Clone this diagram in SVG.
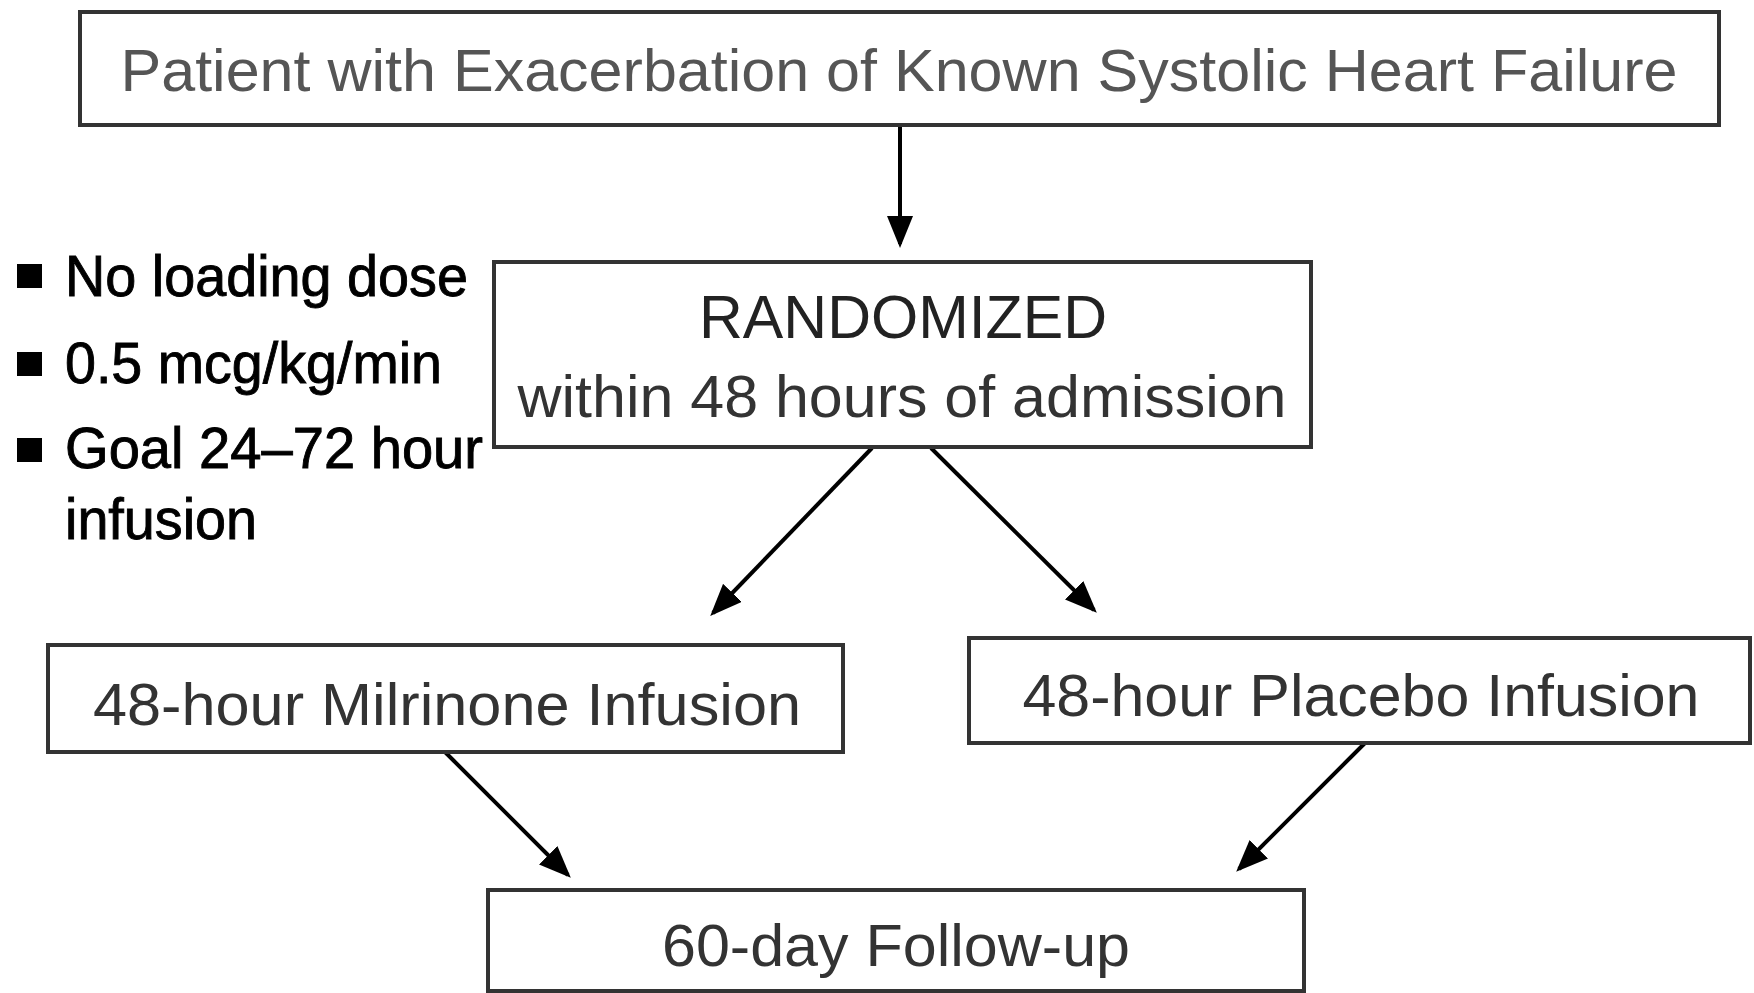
<svg xmlns="http://www.w3.org/2000/svg" width="1754" height="993" viewBox="0 0 1754 993">
<style>
.box{fill:#fff;stroke:#333;stroke-width:4}
.t{font-family:"Liberation Sans",Arial,sans-serif;text-anchor:middle}
.b{font-family:"Liberation Sans",Arial,sans-serif;fill:#000;stroke:#000;stroke-width:0.9;font-size:57px}
.conn{stroke:#000;stroke-width:4;fill:none;marker-end:url(#ah)}
</style>
<defs>
<marker id="ah" markerWidth="8" markerHeight="6.5" refX="7" refY="3.25" orient="auto" markerUnits="strokeWidth">
<path d="M0,0 L8,3.25 L0,6.5 Z" fill="#000"/>
</marker>
</defs>
<rect width="1754" height="993" fill="#fff"/>
<g id="connectors">
<line class="conn" x1="900" y1="125" x2="900" y2="244"/>
<line class="conn" x1="872" y1="448" x2="713" y2="613"/>
<line class="conn" x1="931" y1="448" x2="1094" y2="610"/>
<line class="conn" x1="445" y1="752" x2="568" y2="875"/>
<line class="conn" x1="1365" y1="743" x2="1239" y2="869"/>
</g>
<g id="n-patient">
<rect class="box" x="80" y="12" width="1639" height="113"/>
<text class="t" x="899" y="91" font-size="59" fill="#555" textLength="1557" lengthAdjust="spacingAndGlyphs">Patient with Exacerbation of Known Systolic Heart Failure</text>
</g>
<g id="n-bullets">
<rect x="17" y="264" width="25" height="24" fill="#000"/>
<rect x="17" y="352" width="25" height="24" fill="#000"/>
<rect x="17" y="438" width="25" height="24" fill="#000"/>
<text class="b" x="65" y="296" textLength="403" lengthAdjust="spacingAndGlyphs">No loading dose</text>
<text class="b" x="65" y="383" textLength="377" lengthAdjust="spacingAndGlyphs">0.5 mcg/kg/min</text>
<text class="b" x="65" y="468" textLength="418" lengthAdjust="spacingAndGlyphs">Goal 24–72 hour</text>
<text class="b" x="65" y="539" textLength="192" lengthAdjust="spacingAndGlyphs">infusion</text>
</g>
<g id="n-randomized">
<rect class="box" x="494" y="262" width="817" height="185"/>
<text class="t" x="903" y="338" font-size="61" fill="#222" textLength="408" lengthAdjust="spacingAndGlyphs">RANDOMIZED</text>
<text class="t" x="902" y="417" font-size="59" fill="#333" textLength="769" lengthAdjust="spacingAndGlyphs">within 48 hours of admission</text>
</g>
<g id="n-milrinone">
<rect class="box" x="48" y="645" width="795" height="107"/>
<text class="t" x="447" y="725" font-size="59" fill="#333" textLength="708" lengthAdjust="spacingAndGlyphs">48-hour Milrinone Infusion</text>
</g>
<g id="n-placebo">
<rect class="box" x="969" y="638" width="781" height="105"/>
<text class="t" x="1361" y="716" font-size="59" fill="#333" textLength="677" lengthAdjust="spacingAndGlyphs">48-hour Placebo Infusion</text>
</g>
<g id="n-followup">
<rect class="box" x="488" y="890" width="816" height="101"/>
<text class="t" x="896" y="966" font-size="59" fill="#333" textLength="468" lengthAdjust="spacingAndGlyphs">60-day Follow-up</text>
</g>
</svg>
